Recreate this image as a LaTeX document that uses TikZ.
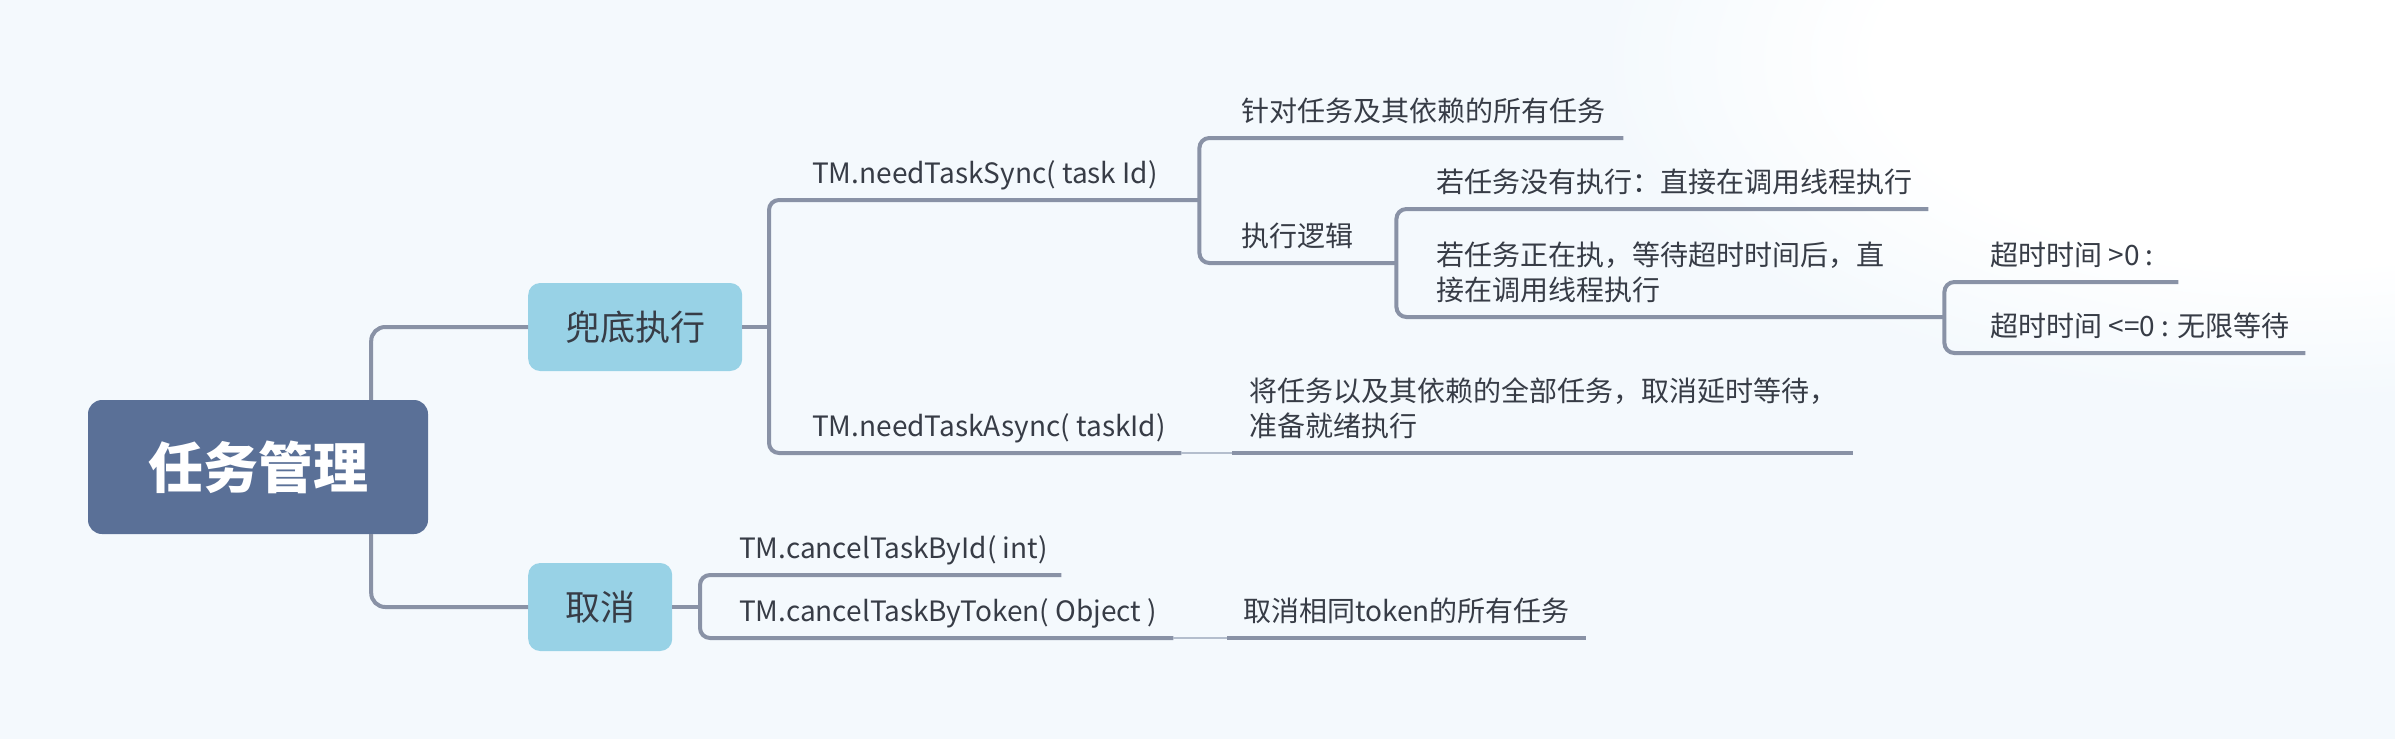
\documentclass[tikz,border=0pt]{standalone}
\usepackage{fontspec}
\setmainfont{Noto Sans CJK SC}
\usetikzlibrary{positioning}

\definecolor{bgblue}{RGB}{244,249,253}
\definecolor{rootblue}{RGB}{90,112,151}
\definecolor{subblue}{RGB}{152,210,230}
\definecolor{linegray}{RGB}{137,146,166}
\definecolor{linklight}{RGB}{180,190,205}
\definecolor{inkgray}{RGB}{55,60,70}

\pgfdeclareradialshading{glow}{\pgfpoint{0bp}{0bp}}{color(0bp)=(white); color(15bp)=(white); color(25bp)=(bgblue); color(50bp)=(bgblue)}

\begin{document}
\begin{tikzpicture}[
    x=1pt, y=-1pt,
    root/.style={rectangle, rounded corners=14pt, fill=rootblue, text=white,
        font=\fontsize{55}{60}\selectfont\bfseries, minimum width=340pt, minimum height=134pt},
    subject/.style={rectangle, rounded corners=12pt, fill=subblue, text=inkgray,
        font=\fontsize{35}{40}\selectfont, inner xsep=37pt, minimum height=88pt},
    topic/.style={anchor=south west, inner sep=0pt, text depth=16pt, text=inkgray,
        font=\fontsize{28}{35}\selectfont},
    branch/.style={draw=linegray, line width=4pt},
    link/.style={draw=linklight, line width=2.5pt}
]

% SFONDO
\useasboundingbox (0,0) rectangle (2395,739);
\fill[bgblue] (0,0) rectangle (2395,739);
\begin{scope}
\clip (0,0) rectangle (2395,739);
\shade[shading=glow] (2300,60) ellipse (700 and 340);
\end{scope}

% RADICE
\node[root] (root) at (258,467) {任务管理};

% RAMI PRINCIPALI
\node[subject, anchor=west] (fallback) at (528,327) {兜底执行};
\node[subject, anchor=west] (cancel) at (528,607) {取消};

% TM.needTaskSync
\node[topic] (sync) at (812,200) {\parbox[b]{387pt}{\raggedright TM.needTaskSync( task Id)}};
\node[topic] (target) at (1241,138) {\parbox[b]{382pt}{\raggedright 针对任务及其依赖的所有任务}};
\node[topic] (logic) at (1241,263) {\parbox[b]{155pt}{\raggedright 执行逻辑}};
\node[topic] (notrun) at (1436,209) {\parbox[b]{492pt}{\raggedright 若任务没有执行：直接在调用线程执行}};
\node[topic] (running) at (1436,317) {\parbox[b]{508pt}{\raggedright 若任务正在执，等待超时时间后，直\\接在调用线程执行}};
\node[topic] (gtzero) at (1990,282) {\parbox[b]{188pt}{\raggedright 超时时间 >0 :}};
\node[topic] (lezero) at (1990,353) {\parbox[b]{315pt}{\raggedright 超时时间 <=0 : 无限等待}};

% TM.needTaskAsync
\node[topic] (async) at (812,453) {\parbox[b]{369pt}{\raggedright TM.needTaskAsync( taskId)}};
\node[topic] (ready) at (1249,453) {\parbox[b]{604pt}{\raggedright 将任务以及其依赖的全部任务，取消延时等待，\\准备就绪执行}};

% CANCEL
\node[topic] (byid) at (739,575) {\parbox[b]{322pt}{\raggedright TM.cancelTaskById( int)}};
\node[topic] (bytoken) at (739,638) {\parbox[b]{434pt}{\raggedright TM.cancelTaskByToken( Object )}};
\node[topic] (sametoken) at (1243,638) {\parbox[b]{343pt}{\raggedright 取消相同token的所有任务}};

% COLLEGAMENTI
\draw[branch, rounded corners=14pt] ([xshift=-57pt]root.north east) |- (fallback.west);
\draw[branch, rounded corners=14pt] ([xshift=-57pt]root.south east) |- (cancel.west);

\coordinate (fbfork) at (769,327);
\draw[branch] (fallback.east) -- (fbfork);
\draw[branch, rounded corners=10pt] (sync.south east) -- (fbfork |- sync.south) -- (fbfork |- async.south) -- (async.south east);
\draw[branch, rounded corners=10pt] (target.south east) -- (sync.south east |- target.south) -- (sync.south east |- logic.south) -- (logic.south east);
\draw[branch, rounded corners=10pt] (notrun.south east) -- (logic.south east |- notrun.south) -- (logic.south east |- running.south) -- (running.south east);
\draw[branch, rounded corners=10pt] (gtzero.south east) -- (running.south east |- gtzero.south) -- (running.south east |- lezero.south) -- (lezero.south east);
\draw[link] (async.south east) -- ([xshift=-17pt]ready.south west);
\draw[branch] ([xshift=-17pt]ready.south west) -- (ready.south east);

\coordinate (cfork) at (700,607);
\draw[branch] (cancel.east) -- (cfork);
\draw[branch, rounded corners=10pt] (byid.south east) -- (cfork |- byid.south) -- (cfork |- bytoken.south) -- (bytoken.south east);
\draw[link] (bytoken.south east) -- ([xshift=-16pt]sametoken.south west);
\draw[branch] ([xshift=-16pt]sametoken.south west) -- (sametoken.south east);

\end{tikzpicture}
\end{document}
